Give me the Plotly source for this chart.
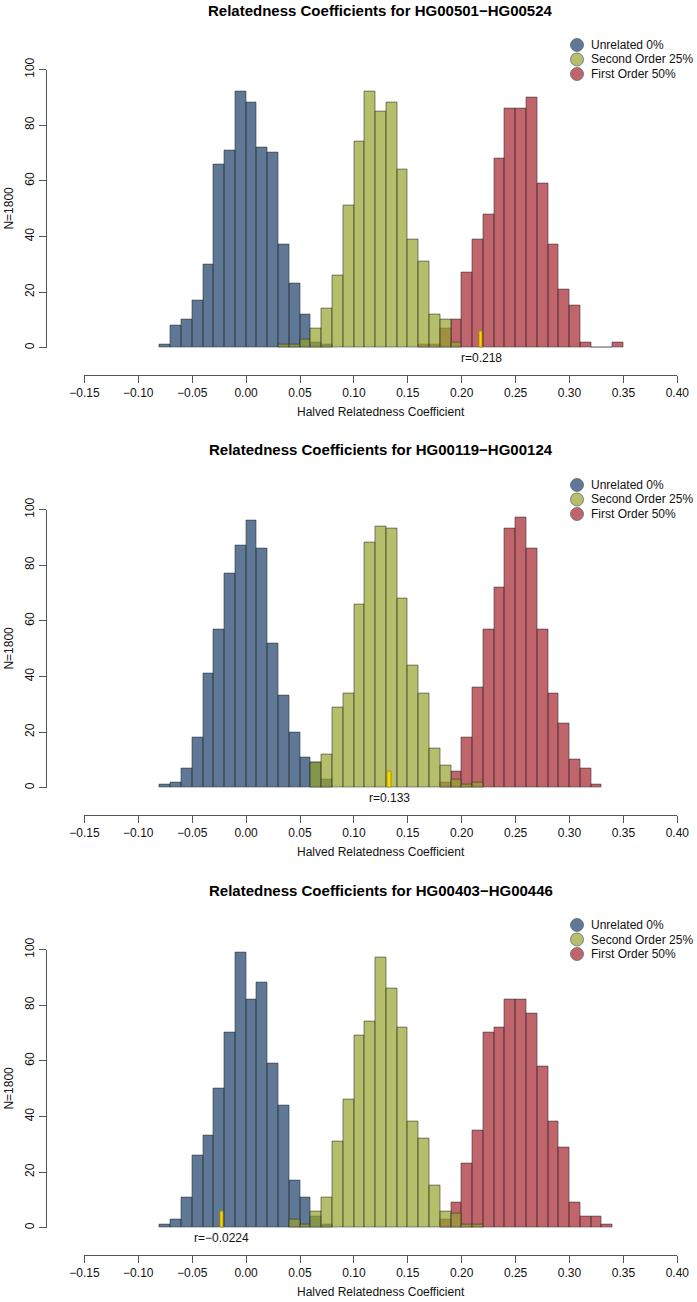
import plotly.graph_objects as go

# ---------------- data ----------------
BIN_LEFT = [-0.08, -0.07, -0.06, -0.05, -0.04, -0.03, -0.02, -0.01, 0.00, 0.01,
            0.02, 0.03, 0.04, 0.05, 0.06, 0.07, 0.08, 0.09, 0.10, 0.11,
            0.12, 0.13, 0.14, 0.15, 0.16, 0.17, 0.18, 0.19, 0.20, 0.21,
            0.22, 0.23, 0.24, 0.25, 0.26, 0.27, 0.28, 0.29, 0.30, 0.31,
            0.32, 0.33, 0.34]
BIN_WIDTH = 0.01

TITLES = ["Relatedness Coefficients for HG00501\u2212HG00524",
          "Relatedness Coefficients for HG00119\u2212HG00124",
          "Relatedness Coefficients for HG00403\u2212HG00446"]
R_VALUES = [0.218, 0.133, -0.0224]
R_LABELS = ["r=0.218", "r=0.133", "r=\u22120.0224"]
MARK_HEIGHT = 6

LEGEND_LABELS = ["Unrelated 0%", "Second Order 25%", "First Order 50%"]
X_TICKS = [-0.15, -0.10, -0.05, 0.00, 0.05, 0.10, 0.15, 0.20, 0.25, 0.30, 0.35, 0.40]
Y_TICKS = [0, 20, 40, 60, 80, 100]
X_TITLE = "Halved Relatedness Coefficient"
Y_TITLE = "N=1800"

# counts: (first bin left edge, counts per 0.01 bin)
UNRELATED_1 = (-0.08, [1, 8, 10, 17, 30, 66, 71, 92, 88, 72, 70, 37, 23, 12, 2, 1])
SECOND_1 = (0.03, [1, 1, 3, 7, 14, 26, 51, 74, 92, 85, 88, 64, 39, 31, 12, 10, 2])
FIRST_1 = (0.16, [1, 1, 7, 10, 27, 39, 48, 68, 86, 86, 90, 59, 37, 21, 15, 2, 0, 0, 2])

UNRELATED_2 = (-0.08, [1, 2, 7, 18, 41, 57, 77, 87, 96, 86, 52, 33, 20, 11, 9, 3])
SECOND_2 = (0.06, [9, 12, 29, 34, 66, 88, 94, 93, 68, 44, 34, 14, 8, 3, 1, 2])
FIRST_2 = (0.18, [2, 6, 18, 36, 57, 72, 93, 97, 86, 57, 34, 23, 10, 7, 1])

UNRELATED_3 = (-0.08, [1, 3, 11, 26, 33, 50, 70, 99, 82, 88, 59, 44, 17, 11, 4, 1])
SECOND_3 = (0.04, [3, 1, 6, 11, 31, 46, 69, 74, 97, 86, 72, 38, 32, 15, 6, 5, 1, 1])
FIRST_3 = (0.18, [3, 9, 23, 35, 70, 72, 82, 82, 77, 58, 38, 29, 9, 4, 4, 1])

PANELS = [(UNRELATED_1, SECOND_1, FIRST_1),
          (UNRELATED_2, SECOND_2, FIRST_2),
          (UNRELATED_3, SECOND_3, FIRST_3)]

# ---------------- style ----------------
W, H = 697, 1302
FONT = "Liberation Sans, Arial, Helvetica, sans-serif"
BLUE = "rgba(25,62,105,0.7)"
GREEN = "rgba(148,162,44,0.7)"
RED = "rgba(165,35,45,0.7)"
LEG_COLORS = ["#5E7896", "#B4BE6B", "#C0656C"]
EDGE = "rgba(45,45,45,0.7)"
AXIS_COLOR = "#555555"
PANEL_DY = 440

X0_PX, X1_PX = 84.4, 677.3
BASE_PX, TOP_PX = 347.7, 69.5
XAXIS_PX = 375.0


def fx(p):
    return p / W


def fy(p):
    return 1 - p / H


def series_xy(series):
    start, counts = series
    i0 = min(range(len(BIN_LEFT)), key=lambda i: abs(BIN_LEFT[i] - start))
    xs = [BIN_LEFT[i0 + j] + BIN_WIDTH / 2 for j in range(len(counts))]
    return xs, counts


fig = go.Figure()
annotations = []
shapes = []
layout_axes = {}

for k, (unrel, second, first) in enumerate(PANELS):
    dy = PANEL_DY * k
    xa = "x" if k == 0 else f"x{k+1}"
    ya = "y" if k == 0 else f"y{k+1}"
    xname = "xaxis" if k == 0 else f"xaxis{k+1}"
    yname = "yaxis" if k == 0 else f"yaxis{k+1}"

    for series, color in [(unrel, BLUE), (first, RED), (second, GREEN)]:
        xs, ys = series_xy(series)
        fig.add_trace(go.Bar(x=xs, y=ys, width=BIN_WIDTH, xaxis=xa, yaxis=ya,
                             marker=dict(color=color, line=dict(color=EDGE, width=0.8)),
                             showlegend=False, hoverinfo="skip"))
    # observed r marker
    fig.add_trace(go.Bar(x=[R_VALUES[k]], y=[MARK_HEIGHT], width=0.003, xaxis=xa, yaxis=ya,
                         marker=dict(color="#FFD700", line=dict(color="#A08A00", width=0.8)),
                         showlegend=False, hoverinfo="skip"))
    annotations.append(dict(x=R_VALUES[k], y=0, xref=xa, yref=ya, text=R_LABELS[k],
                            showarrow=False, yanchor="top", xanchor="center", yshift=-1,
                            font=dict(size=12, color="#111111", family=FONT)))

    layout_axes[xname] = dict(domain=[fx(X0_PX), fx(X1_PX)], range=[-0.15, 0.40],
                              anchor="free", position=fy(XAXIS_PX + dy),
                              showline=True, linecolor=AXIS_COLOR, linewidth=1,
                              ticks="outside", ticklen=7, tickcolor=AXIS_COLOR,
                              tickvals=X_TICKS, tickformat=".2f", showgrid=False,
                              zeroline=False, fixedrange=True, automargin=False,
                              tickfont=dict(size=12, color="#111111", family=FONT))
    layout_axes[yname] = dict(domain=[fy(BASE_PX + dy), fy(TOP_PX + dy)], range=[0, 100],
                              anchor="free", position=fx(46),
                              showline=True, linecolor=AXIS_COLOR, linewidth=1,
                              ticks="outside", ticklen=7, tickcolor=AXIS_COLOR,
                              tickvals=Y_TICKS, tickangle=-90, showgrid=False,
                              zeroline=False, fixedrange=True, automargin=False,
                              tickfont=dict(size=12, color="#111111", family=FONT))

    # titles
    annotations.append(dict(x=fx((X0_PX + X1_PX) / 2), y=fy(10 + dy), xref="paper", yref="paper",
                            text="<b>" + TITLES[k] + "</b>", showarrow=False,
                            xanchor="center", yanchor="middle",
                            font=dict(size=15, color="#000000", family=FONT)))
    annotations.append(dict(x=fx((X0_PX + X1_PX) / 2), y=fy(412 + dy), xref="paper", yref="paper",
                            text=X_TITLE, showarrow=False, xanchor="center", yanchor="middle",
                            font=dict(size=12, color="#111111", family=FONT)))
    annotations.append(dict(x=fx(9), y=fy((BASE_PX + TOP_PX) / 2 + dy), xref="paper", yref="paper",
                            text=Y_TITLE, showarrow=False, textangle=-90,
                            xanchor="center", yanchor="middle",
                            font=dict(size=12, color="#111111", family=FONT)))

    # legend
    for j, (lab, col) in enumerate(zip(LEGEND_LABELS, LEG_COLORS)):
        cy = 45 + 14.5 * j + dy
        shapes.append(dict(type="circle", xref="paper", yref="paper",
                           xsizemode="pixel", ysizemode="pixel",
                           xanchor=fx(577), yanchor=fy(cy),
                           x0=-6.5, x1=6.5, y0=-6.5, y1=6.5,
                           fillcolor=col, line=dict(color="#666666", width=0.8)))
        annotations.append(dict(x=fx(589), y=fy(cy), xref="paper", yref="paper",
                                text=lab, showarrow=False, xanchor="left", yanchor="middle",
                                font=dict(size=12, color="#111111", family=FONT)))

fig.update_layout(width=W, height=H, margin=dict(l=0, r=0, t=0, b=0, pad=0, autoexpand=False),
                  paper_bgcolor="white", plot_bgcolor="white",
                  barmode="overlay", bargap=0, showlegend=False,
                  annotations=annotations, shapes=shapes, **layout_axes)

fig.write_html("out.html", config={"displayModeBar": False},
               post_script="document.body.style.margin='0px';")
